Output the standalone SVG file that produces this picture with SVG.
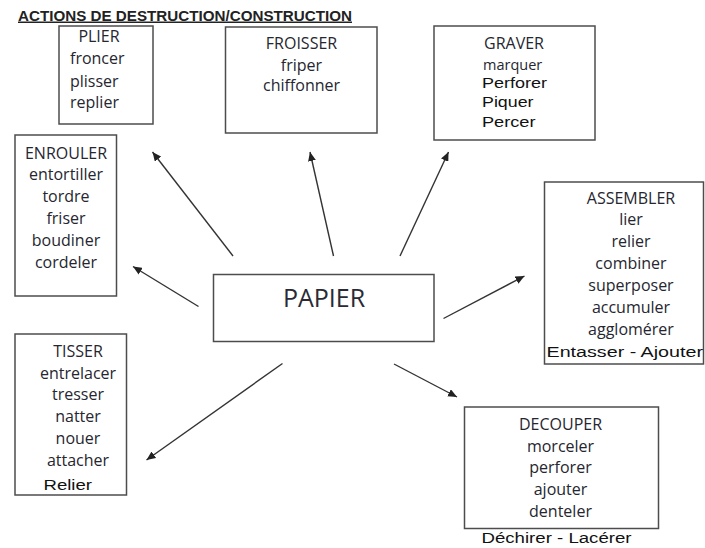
<svg xmlns="http://www.w3.org/2000/svg" width="705" height="548" viewBox="0 0 705 548">
<style>
  .box { fill: #ffffff; stroke: #4d4d4d; stroke-width: 1.5; }
  .t { font-family: "Open Sans", "Liberation Sans", sans-serif; font-size: 16px; fill: #262630; }
  .c { text-anchor: middle; }
  .a { font-family: "Liberation Sans", Arial, sans-serif; font-size: 15.5px; fill: #111111; }
  .title { font-family: "Liberation Sans", Arial, sans-serif; font-size: 15px; font-weight: bold; fill: #222222; text-decoration: underline; }
  .big { font-family: "Open Sans", "Liberation Sans", sans-serif; font-size: 25px; fill: #2a2a35; text-anchor: middle; }
  .arrow { stroke: #333333; stroke-width: 1.4; fill: none; marker-end: url(#head); }
</style>
<defs>
  <marker id="head" markerUnits="userSpaceOnUse" markerWidth="9" markerHeight="8" refX="9" refY="4" orient="auto">
    <path d="M0,0 L9,4 L0,8 z" fill="#222222"/>
  </marker>
</defs>
<rect width="705" height="548" fill="#ffffff"/>

<text id="title" class="title" x="18" y="20.5" textLength="334" lengthAdjust="spacingAndGlyphs">ACTIONS DE DESTRUCTION/CONSTRUCTION</text>

<g id="papier">
  <rect class="box" x="213.5" y="274.5" width="220.5" height="67"/>
  <text class="big" x="324" y="307">PAPIER</text>
</g>

<g id="plier">
  <rect class="box" x="59" y="26" width="94" height="98"/>
  <text class="t c" x="99" y="42">PLIER</text>
  <text class="t" x="70" y="64">froncer</text>
  <text class="t" x="70" y="86.5">plisser</text>
  <text class="t" x="70" y="107.5">replier</text>
</g>

<g id="froisser">
  <rect class="box" x="225.5" y="27" width="151.5" height="106"/>
  <text class="t c" x="301.5" y="49">FROISSER</text>
  <text class="t c" x="301.5" y="70.5">friper</text>
  <text class="t c" x="301.5" y="91">chiffonner</text>
</g>

<g id="graver">
  <rect class="box" x="434" y="26" width="161" height="114"/>
  <text class="t c" x="514" y="48.5">GRAVER</text>
  <text class="t" x="483" y="69.5" style="font-size:14.5px">marquer</text>
  <text class="a" x="482" y="88" textLength="65" lengthAdjust="spacingAndGlyphs">Perforer</text>
  <text class="a" x="482" y="106.5" textLength="51.5" lengthAdjust="spacingAndGlyphs">Piquer</text>
  <text class="a" x="482" y="126.5" textLength="53.5" lengthAdjust="spacingAndGlyphs">Percer</text>
</g>

<g id="enrouler">
  <rect class="box" x="15" y="135" width="101.5" height="161"/>
  <text class="t c" x="66" y="158.5">ENROULER</text>
  <text class="t c" x="66" y="180">entortiller</text>
  <text class="t c" x="66" y="202">tordre</text>
  <text class="t c" x="66" y="224">friser</text>
  <text class="t c" x="66" y="245.5">boudiner</text>
  <text class="t c" x="66" y="267.5">cordeler</text>
</g>

<g id="assembler">
  <rect class="box" x="544.5" y="182" width="159" height="182"/>
  <text class="t c" x="631" y="203.5">ASSEMBLER</text>
  <text class="t c" x="631" y="225">lier</text>
  <text class="t c" x="631" y="246.5">relier</text>
  <text class="t c" x="631" y="269">combiner</text>
  <text class="t c" x="631" y="291">superposer</text>
  <text class="t c" x="631" y="313">accumuler</text>
  <text class="t c" x="631" y="335">agglomérer</text>
  <text class="a" x="546.5" y="357" textLength="156.5" lengthAdjust="spacingAndGlyphs">Entasser - Ajouter</text>
</g>

<g id="tisser">
  <rect class="box" x="15" y="334" width="111.5" height="161"/>
  <text class="t c" x="78" y="356.5">TISSER</text>
  <text class="t c" x="78" y="378.5">entrelacer</text>
  <text class="t c" x="78" y="400">tresser</text>
  <text class="t c" x="78" y="422">natter</text>
  <text class="t c" x="78" y="444">nouer</text>
  <text class="t c" x="78" y="466">attacher</text>
  <text class="a" x="43.5" y="490" textLength="48.5" lengthAdjust="spacingAndGlyphs">Relier</text>
</g>

<g id="decouper">
  <rect class="box" x="464.5" y="407" width="194" height="121.5"/>
  <text class="t c" x="560.5" y="429.5">DECOUPER</text>
  <text class="t c" x="560.5" y="451.5">morceler</text>
  <text class="t c" x="560.5" y="473">perforer</text>
  <text class="t c" x="560.5" y="495">ajouter</text>
  <text class="t c" x="560.5" y="517">denteler</text>
  <text class="a" x="481.5" y="543" textLength="150" lengthAdjust="spacingAndGlyphs">Déchirer - Lacérer</text>
</g>

<g id="connectors">
  <line class="arrow" x1="233" y1="256" x2="152.5" y2="152"/>
  <line class="arrow" x1="333.5" y1="256" x2="310" y2="152"/>
  <line class="arrow" x1="400" y1="256" x2="448.5" y2="152"/>
  <line class="arrow" x1="198.5" y1="306.5" x2="133" y2="266.5"/>
  <line class="arrow" x1="443.5" y1="318.5" x2="524.5" y2="276"/>
  <line class="arrow" x1="282.5" y1="363.5" x2="146.5" y2="460"/>
  <line class="arrow" x1="394" y1="364" x2="457" y2="397"/>
</g>
</svg>
